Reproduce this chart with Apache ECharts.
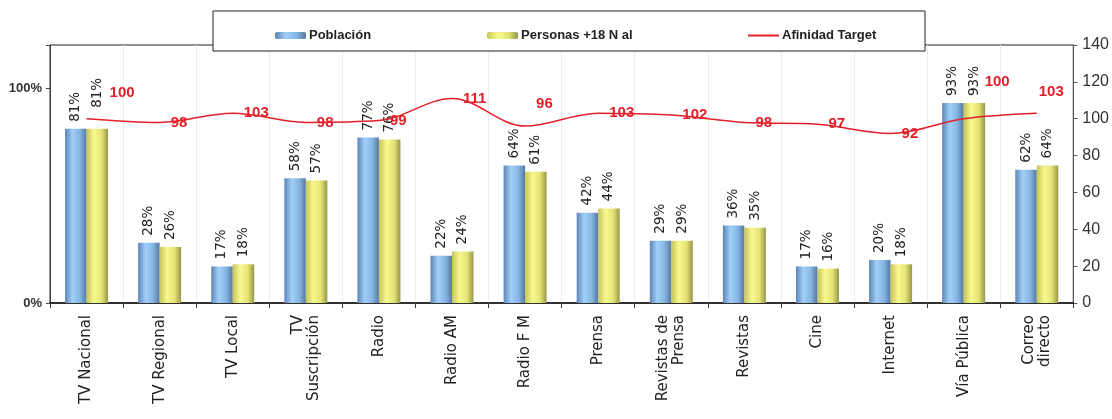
<!DOCTYPE html>
<html>
<head>
<meta charset="utf-8">
<script src="https://cdn.jsdelivr.net/npm/echarts@6/dist/echarts.min.js"></script>
<style>
  html, body { margin: 0; padding: 0; background: #fff; }
  #chart { width: 1112px; height: 419px; }
</style>
</head>
<body>
<div id="chart"></div>
<script>
// Media categories (line breaks as shown under the axis)
const categories = [
  'TV Nacional', 'TV Regional', 'TV Local', 'TV\nSuscripción', 'Radio', 'Radio AM',
  'Radio F M', 'Prensa', 'Revistas de\nPrensa', 'Revistas', 'Cine', 'Internet',
  'Vía Pública', 'Correo\ndirecto'
];
// Reach, percent
const poblacion = [81, 28, 17, 58, 77, 22, 64, 42, 29, 36, 17, 20, 93, 62];
const personas  = [81, 26, 18, 57, 76, 24, 61, 44, 29, 35, 16, 18, 93, 64];
// Affinity index
const afinidad  = [100, 98, 103, 98, 99, 111, 96, 103, 102, 98, 97, 92, 100, 103];

const seriesNames = ['Población', 'Personas +18 N al', 'Afinidad Target'];
const leftTicks = [0, 100];

const narrow = '"Liberation Sans Narrow", "Liberation Sans", Arial, sans-serif';
const wide = '"DejaVu Sans", Verdana, sans-serif';

const blueFill = new echarts.graphic.LinearGradient(0, 0, 1, 0, [
  { offset: 0, color: '#5f84b8' },
  { offset: 0.35, color: '#a0d0f8' },
  { offset: 0.7, color: '#86b4e2' },
  { offset: 1, color: '#56789f' }
]);
const yellowFill = new echarts.graphic.LinearGradient(0, 0, 1, 0, [
  { offset: 0, color: '#c4c45a' },
  { offset: 0.35, color: '#f8f890' },
  { offset: 0.7, color: '#e4e474' },
  { offset: 1, color: '#96964a' }
]);

// Label nudges for crowded spots (bar labels are rotated, so +x is upward)
const lineLabelShift = { 0: [12, -26], 6: [0, -22], 12: [10, -37], 13: [-9, -21] };
const barLabelShift = { 0: [14, 0] };

const barLabel = {
  show: true,
  position: 'top',
  rotate: 90,
  align: 'left',
  verticalAlign: 'middle',
  distance: 7,
  fontFamily: wide,
  fontSize: 13.5,
  color: '#222',
  formatter: p => p.value + '%'
};

const legendText = { fontFamily: narrow, fontWeight: 'bold', fontSize: 13, color: '#222', padding: [0, 0, 0, -2] };

const chart = echarts.init(document.getElementById('chart'), null, { renderer: 'canvas' });

chart.setOption({
  animation: false,
  backgroundColor: '#fff',
  grid: {
    left: 50, right: 37, top: 45, bottom: 116,
    show: true, borderColor: '#222', borderWidth: 1, backgroundColor: 'transparent'
  },
  graphic: [{
    type: 'rect', z: 3,
    shape: { x: 213, y: 11, width: 712, height: 40 },
    style: { fill: '#fff', stroke: '#222', lineWidth: 1 }
  }],
  legend: [
    { data: [seriesNames[0]], left: 270, top: 24, itemWidth: 31, itemHeight: 7, z: 5, textStyle: legendText },
    { data: [seriesNames[1]], left: 482, top: 24, itemWidth: 31, itemHeight: 7, z: 5, textStyle: legendText },
    { data: [seriesNames[2]], left: 743, top: 24, itemWidth: 31, itemHeight: 2, icon: 'rect', z: 5, textStyle: legendText }
  ],
  xAxis: {
    type: 'category',
    data: categories,
    axisLine: { lineStyle: { color: '#111', width: 1.5 } },
    axisTick: { show: true, length: 5, lineStyle: { color: '#333' } },
    splitLine: { show: true, lineStyle: { color: '#ececec' } },
    axisLabel: {
      interval: 0, rotate: 90, margin: 12,
      fontFamily: wide, fontSize: 15, lineHeight: 16, color: '#222'
    }
  },
  yAxis: [
    {
      type: 'value', position: 'left', min: 0, max: 120, interval: 100,
      axisLine: { show: true, lineStyle: { color: '#444' } },
      axisTick: { show: true, length: 4, lineStyle: { color: '#444' } },
      splitLine: { show: false },
      axisLabel: {
        margin: 8, fontFamily: '"Liberation Sans", Arial, sans-serif', fontWeight: 'bold',
        fontSize: 13, color: '#333',
        formatter: v => leftTicks.includes(v) ? v + '%' : ''
      }
    },
    {
      type: 'value', position: 'right', min: 0, max: 140, interval: 20,
      axisLine: { show: true, lineStyle: { color: '#555' } },
      axisTick: { show: true, length: 4, lineStyle: { color: '#555' } },
      splitLine: { show: false },
      axisLabel: { margin: 9, fontFamily: narrow, fontSize: 16, color: '#333' }
    }
  ],
  series: [
    {
      name: seriesNames[0], type: 'bar', yAxisIndex: 0,
      barWidth: 21.5, barGap: '0%',
      itemStyle: { color: blueFill },
      label: barLabel,
      data: poblacion
    },
    {
      name: seriesNames[1], type: 'bar', yAxisIndex: 0,
      barWidth: 21.5, barGap: '0%',
      itemStyle: { color: yellowFill },
      label: barLabel,
      data: personas.map((v, i) => barLabelShift[i]
        ? { value: v, label: { offset: barLabelShift[i] } } : v)
    },
    {
      name: seriesNames[2], type: 'line', yAxisIndex: 1,
      smooth: 0.35, symbol: 'circle', symbolSize: 0,
      lineStyle: { color: '#e3202a', width: 1.5 },
      itemStyle: { color: '#e3202a' },
      label: {
        show: true, position: 'right', distance: 11,
        fontFamily: narrow, fontWeight: 'bold', fontSize: 15, color: '#e3202a'
      },
      data: afinidad.map((v, i) => lineLabelShift[i]
        ? { value: v, label: { offset: lineLabelShift[i] } } : v),
      z: 4
    }
  ]
});
</script>
</body>
</html>
